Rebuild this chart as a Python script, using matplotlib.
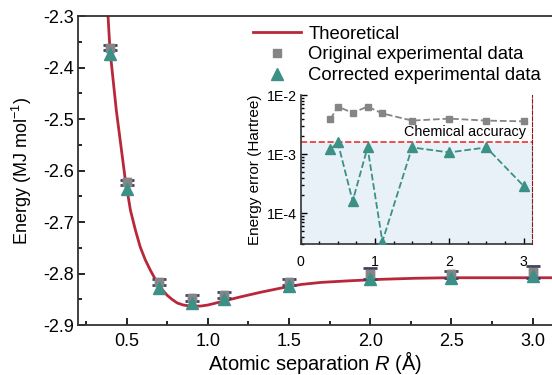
import matplotlib
matplotlib.use('Agg')
import matplotlib.pyplot as plt
from matplotlib.ticker import MultipleLocator, LogLocator, FixedLocator

plt.rcParams['font.family'] = ['Liberation Sans', 'DejaVu Sans']
plt.rcParams['mathtext.fontset'] = 'custom'
plt.rcParams['mathtext.rm'] = 'Liberation Sans'
plt.rcParams['mathtext.it'] = 'Liberation Sans:italic'
plt.rcParams['axes.unicode_minus'] = False

# experimental separations (Angstrom)
sep = [0.4, 0.5, 0.7, 0.9, 1.1, 1.5, 2.0, 2.5, 3.0]
orig_energy = [-2.3615, -2.623, -2.816, -2.848, -2.842, -2.816, -2.800, -2.801, -2.797]
orig_err = [0.005, 0.005, 0.006, 0.006, 0.006, 0.006, 0.011, 0.007, 0.011]
corr_energy = [-2.374, -2.635, -2.827, -2.857, -2.850, -2.824, -2.810, -2.808, -2.805]

# theoretical curve
theo_r = [0.386, 0.398, 0.437, 0.490, 0.524, 0.555, 0.584, 0.615, 0.646, 0.672, 0.698,
          0.725, 0.750, 0.780, 0.812, 0.850, 0.894, 0.956, 1.000, 1.039, 1.101, 1.204,
          1.328, 1.452, 1.576, 1.700, 1.866, 2.072, 2.279, 2.486, 2.800, 3.140]
theo_e = [-2.300, -2.366, -2.483, -2.612, -2.677, -2.716, -2.748, -2.773, -2.793, -2.808, -2.822,
          -2.833, -2.842, -2.850, -2.857, -2.861, -2.863, -2.863, -2.861, -2.858, -2.853, -2.845,
          -2.836, -2.828, -2.821, -2.817, -2.814, -2.811, -2.809, -2.808, -2.808, -2.808]

# inset: energy errors (Hartree)
orig_error = [3.9e-3, 6.4e-3, 5.0e-3, 6.4e-3, 4.9e-3, 3.7e-3, 4.0e-3, 3.7e-3, 3.6e-3]
corr_error = [1.2e-3, 1.58e-3, 1.6e-4, 1.3e-3, 3.3e-5, 1.3e-3, 1.07e-3, 1.3e-3, 2.9e-4]
chem_acc = 1.6e-3

red = '#b8283a'
gray = '#858585'
teal = '#3c9086'
navy = '#3e4160'

fig = plt.figure(figsize=(5.52, 3.75), dpi=100)
ax = fig.add_axes([0.141, 0.133, 0.859, 0.824])

ax.plot(theo_r, theo_e, color=red, lw=2, label='Theoretical', zorder=2)
ax.errorbar(sep, orig_energy, yerr=orig_err, fmt='s', color=gray, ms=6,
            ecolor=navy, elinewidth=2.5, capsize=5, capthick=2, zorder=3)
ax.plot(sep, orig_energy, 's', color=gray, ms=6, ls='none',
        label='Original experimental data', zorder=3)
ax.plot(sep, corr_energy, '^', color=teal, ms=8, ls='none',
        label='Corrected experimental data', zorder=4)

ax.set_xlim(0.2, 3.12)
ax.set_ylim(-2.9, -2.3)
ax.xaxis.set_major_locator(FixedLocator([0.5, 1.0, 1.5, 2.0, 2.5, 3.0]))
ax.xaxis.set_minor_locator(MultipleLocator(0.25))
ax.yaxis.set_major_locator(MultipleLocator(0.1))
ax.yaxis.set_minor_locator(MultipleLocator(0.05))
ax.tick_params(which='both', direction='in', labelsize=13, width=1.2)
ax.tick_params(which='major', length=5)
ax.tick_params(which='minor', length=3)
ax.tick_params(axis='x', pad=6)
ax.tick_params(axis='y', pad=3)
ax.set_xticklabels(['0.5', '1.0', '1.5', '2.0', '2.5', '3.0'])
for s in ax.spines.values():
    s.set_linewidth(1.3)
    s.set_color('#333333')
ax.spines['right'].set_visible(False)
ax.set_xlabel('Atomic separation $R$ (Å)', fontsize=14.5, labelpad=-1)
ax.set_ylabel('Energy (MJ mol$^{-1}$)', fontsize=13, labelpad=6)

ax.legend(loc='upper right', bbox_to_anchor=(1.0, 1.005), frameon=False, fontsize=13.3,
          handlelength=2.6, handletextpad=0.4, labelspacing=0.2, borderaxespad=0.2)

# inset
ax_in = fig.add_axes([0.5447, 0.3493, 0.4185, 0.397])
ax_in.axhspan(1e-6, chem_acc, color='#e8f0f8', zorder=0)
ax_in.axhline(chem_acc, color='#e8332e', ls='--', lw=1.2, zorder=1)
ax_in.plot(sep, orig_error, '--s', color=gray, ms=4.5, lw=1.3, zorder=2)
ax_in.plot(sep, corr_error, '--^', color=teal, ms=6.5, lw=1.3, zorder=3)
ax_in.text(3.03, chem_acc * 1.12, 'Chemical accuracy', ha='right', va='bottom', fontsize=10.4)

ax_in.set_yscale('log')
ax_in.set_xlim(0, 3.11)
ax_in.set_ylim(3e-5, 1e-2)
ax_in.xaxis.set_major_locator(MultipleLocator(1))
ax_in.xaxis.set_minor_locator(MultipleLocator(0.25))
ax_in.yaxis.set_major_locator(FixedLocator([1e-4, 1e-3, 1e-2]))
ax_in.yaxis.set_minor_locator(LogLocator(base=10, subs=range(2, 10)))
ax_in.set_yticklabels(['1E-4', '1E-3', '1E-2'])
ax_in.tick_params(which='both', direction='in', labelsize=10.2, width=1)
ax_in.tick_params(which='major', length=4)
ax_in.tick_params(which='minor', length=2)
ax_in.tick_params(axis='x', pad=8)
ax_in.tick_params(axis='y', pad=3)
ax_in.spines['top'].set_visible(False)
ax_in.spines['right'].set_color('#8b1a1a')
ax_in.spines['right'].set_linestyle('--')
for side in ['left', 'bottom']:
    ax_in.spines[side].set_linewidth(1.2)
    ax_in.spines[side].set_color('#333333')
ax_in.set_ylabel('Energy error (Hartree)', fontsize=11, labelpad=3)
ax_in.patch.set_alpha(0)

fig.savefig('out.png', dpi=100)
